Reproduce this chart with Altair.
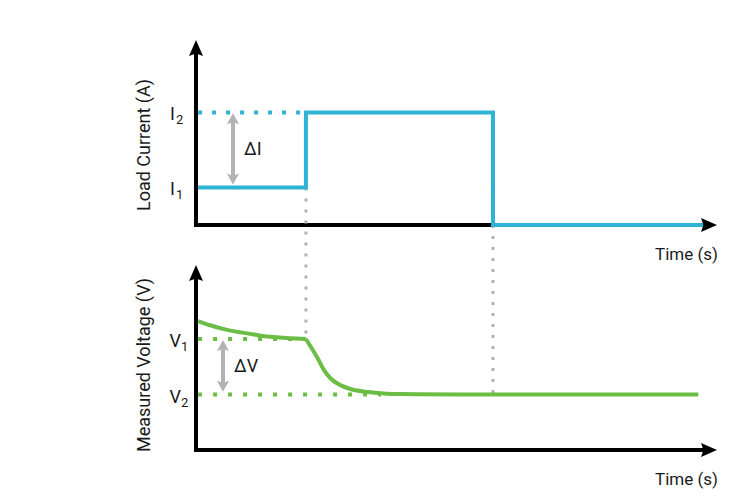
import altair as alt
import pandas as pd

# ---------------- data ----------------
time_current = [0.04, 2.11, 2.11, 5.70, 5.70, 9.75]
current = [1, 1, 3, 3, 0, 0]

# voltage: settling segment before the step, then decay after the step
time_voltage_1 = [0.04, 0.29, 0.54, 0.86, 1.19, 1.50, 1.82, 2.11]
voltage_1 = [4.65, 4.49, 4.36, 4.24, 4.14, 4.07, 4.03, 4.00]
time_voltage_2 = [2.11, 2.19, 2.34, 2.46, 2.59, 2.78, 2.98, 3.30, 3.61, 3.93,
                  4.26, 5.50, 9.64]
voltage_2 = [4.00, 3.76, 3.29, 2.87, 2.57, 2.33, 2.19, 2.09, 2.04, 2.02,
             2.01, 2.00, 2.00]

current_levels = [1, 3]
current_subs = ["1", "2"]
voltage_levels = [4, 2]
voltage_subs = ["1", "2"]

t_step = 2.11
t_drop = 5.70
t_v2_dots_end = 3.55

current_title = "Load Current (A)"
voltage_title = "Measured Voltage (V)"
time_title = "Time (s)"

# ---------------- geometry / styles ----------------
W, H, GAP = 521, 185, 40
X_MAX, I_MAX, V_MAX = 10.0, 4.93, 6.67
px_x, px_i, px_v = W / X_MAX, H / I_MAX, H / V_MAX

BLUE = "#2fb3d4"
GREEN = "#6cbd45"
GRAY = "#b3b3b3"
BLACK = "#000000"
TEXT = "#1a1a1a"
FONT = "Roboto"

UP = "M0,-1L0.875,1L0,0.7L-0.875,1Z"
RIGHT = "M1,0L-1,-0.875L-0.7,0L-1,0.875Z"
SMALL_UP = "M0,-1L1,0.8L0,0.45L-1,0.8Z"
SMALL_DOWN = "M0,1L1,-0.8L0,-0.45L-1,-0.8Z"

xs = alt.Scale(domain=[0, X_MAX], nice=False, zero=False)
ys_i = alt.Scale(domain=[0, I_MAX], nice=False, zero=False)
ys_v = alt.Scale(domain=[0, V_MAX], nice=False, zero=False)


def X(field="x"):
    return alt.X(f"{field}:Q", scale=xs, axis=None)


def panel(levels, subs, signal_df, signal_color, ys, pxy, letter, letter_dx,
          title, dashed_rules, dbl_arrow_t, interp, sub_dx):
    Y = lambda f="y": alt.Y(f"{f}:Q", scale=ys, axis=None)
    layers = []

    # axes
    arrow_y = ys.domain[1] - 8 / pxy
    arrow_x = X_MAX - 8 / px_x
    layers.append(alt.Chart(pd.DataFrame({"x": [0], "y": [0], "y2": [arrow_y]}))
                  .mark_rule(color=BLACK, strokeWidth=4, strokeCap="square")
                  .encode(x=X(), y=Y(), y2="y2:Q"))
    layers.append(alt.Chart(pd.DataFrame({"x": [0], "x2": [arrow_x], "y": [0]}))
                  .mark_rule(color=BLACK, strokeWidth=4, strokeCap="square")
                  .encode(x=X(), x2="x2:Q", y=Y()))

    # dotted level guides
    for (x2, yv, col, dash) in dashed_rules:
        layers.append(alt.Chart(pd.DataFrame({"x": [0.04], "x2": [x2], "y": [yv]}))
                      .mark_rule(color=col, strokeWidth=4, strokeDash=dash)
                      .encode(x=X(), x2="x2:Q", y=Y()))

    # signal
    layers.append(alt.Chart(signal_df)
                  .mark_line(color=signal_color, strokeWidth=4, strokeJoin="miter",
                             interpolate=interp)
                  .encode(x=X("t"), y=Y("v"), order="i:Q", detail="seg:N"))

    # axis arrowheads
    layers.append(alt.Chart(pd.DataFrame({"x": [0], "y": [arrow_y]}))
                  .mark_point(shape=UP, size=256, filled=True, color=BLACK, opacity=1)
                  .encode(x=X(), y=Y()))
    layers.append(alt.Chart(pd.DataFrame({"x": [arrow_x], "y": [0]}))
                  .mark_point(shape=RIGHT, size=256, filled=True, color=BLACK, opacity=1)
                  .encode(x=X(), y=Y()))

    # delta double arrow
    lo, hi = min(levels), max(levels)
    tip_hi = hi - 1 / pxy
    tip_lo = lo + 3 / pxy
    layers.append(alt.Chart(pd.DataFrame({"x": [dbl_arrow_t], "y": [tip_lo + 6 / pxy],
                                          "y2": [tip_hi - 6 / pxy]}))
                  .mark_rule(color=GRAY, strokeWidth=4)
                  .encode(x=X(), y=Y(), y2="y2:Q"))
    layers.append(alt.Chart(pd.DataFrame({"x": [dbl_arrow_t], "y": [tip_hi - 6 / pxy]}))
                  .mark_point(shape=SMALL_UP, size=150, filled=True, color=GRAY, opacity=1)
                  .encode(x=X(), y=Y()))
    layers.append(alt.Chart(pd.DataFrame({"x": [dbl_arrow_t], "y": [tip_lo + 6 / pxy]}))
                  .mark_point(shape=SMALL_DOWN, size=150, filled=True, color=GRAY, opacity=1)
                  .encode(x=X(), y=Y()))
    layers.append(alt.Chart(pd.DataFrame({"x": [dbl_arrow_t + 11 / px_x],
                                          "y": [(lo + hi) / 2], "txt": ["Δ" + letter]}))
                  .mark_text(font=FONT, fontSize=18, color=TEXT, align="left",
                             baseline="middle")
                  .encode(x=X(), y=Y(), text="txt:N"))

    # tick labels with subscripts
    lab = pd.DataFrame({"x": [0] * len(levels), "y": levels,
                        "txt": [letter] * len(levels), "sub": subs})
    layers.append(alt.Chart(lab)
                  .mark_text(font=FONT, fontSize=18, color=TEXT, align="right",
                             baseline="middle", dx=letter_dx, dy=3)
                  .encode(x=X(), y=Y(), text="txt:N"))
    layers.append(alt.Chart(lab)
                  .mark_text(font=FONT, fontSize=13, color=TEXT, align="left",
                             baseline="middle", dx=sub_dx, dy=8)
                  .encode(x=X(), y=Y(), text="sub:N"))

    # axis title (rotated)
    layers.append(alt.Chart(pd.DataFrame({"x": [-51 / px_x], "y": [title[1]],
                                          "txt": [title[0]]}))
                  .mark_text(font=FONT, fontSize=18, color=TEXT, angle=270,
                             align="center", baseline="middle")
                  .encode(x=X(), y=Y(), text="txt:N"))

    # time title
    layers.append(alt.Chart(pd.DataFrame({"x": [X_MAX + 1 / px_x], "y": [-30 / pxy],
                                          "txt": [time_title]}))
                  .mark_text(font=FONT, fontSize=17, color=TEXT, align="right",
                             baseline="middle")
                  .encode(x=X(), y=Y(), text="txt:N"))
    return layers


cur_df = pd.DataFrame({"t": time_current, "v": current,
                       "i": range(len(current)), "seg": 0})
vol_df = pd.concat([
    pd.DataFrame({"t": time_voltage_1, "v": voltage_1,
                  "i": range(len(voltage_1)), "seg": 0}),
    pd.DataFrame({"t": time_voltage_2, "v": voltage_2,
                  "i": range(len(voltage_2)), "seg": 1}),
], ignore_index=True)

top_layers = panel(current_levels, current_subs, cur_df, BLUE, ys_i, px_i, "I", -21,
                   (current_title, 80 / px_i),
                   [(t_step, max(current_levels), BLUE, [4, 10])],
                   37 / px_x, "linear", -20)


# gray dotted verticals spanning both panels (drawn in the top panel's frame)
def below(vlevel):
    return -(GAP + H - vlevel * px_v) / px_i


gray_df = pd.DataFrame({"x": [t_step, t_drop],
                        "y": [min(current_levels), 0],
                        "y2": [below(voltage_levels[0]), below(voltage_levels[1])]})
top_layers.insert(3, alt.Chart(gray_df)
                  .mark_rule(color=GRAY, strokeWidth=3, strokeDash=[3, 8])
                  .encode(x=X(), y=alt.Y("y:Q", scale=ys_i, axis=None), y2="y2:Q"))

bottom_layers = panel(voltage_levels, voltage_subs, vol_df, GREEN, ys_v, px_v, "V", -15,
                      (voltage_title, 85 / px_v),
                      [(t_step, voltage_levels[0], GREEN, [4, 11]),
                       (t_v2_dots_end, voltage_levels[1], GREEN, [4, 11])],
                      27 / px_x, "monotone", -15)

top = alt.layer(*top_layers).properties(width=W, height=H)
bottom = alt.layer(*bottom_layers).properties(width=W, height=H)

chart = (alt.vconcat(top, bottom, spacing=GAP, bounds="flush")
         .properties(padding={"left": 128, "top": 32, "right": 5, "bottom": 5},
                     background="white")
         .configure_view(stroke=None))

chart.save("out.html", embed_options={"renderer": "svg", "actions": False})
